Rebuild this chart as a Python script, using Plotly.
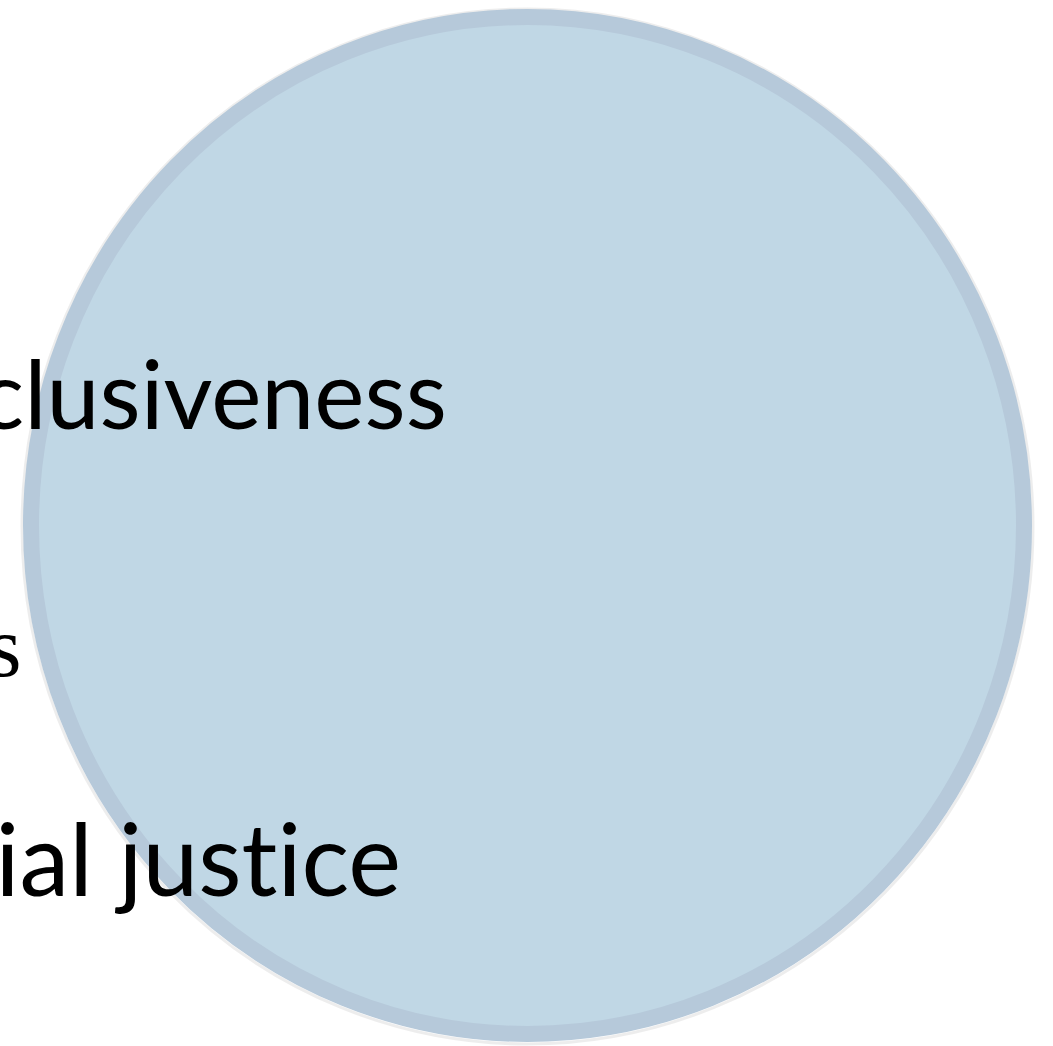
import plotly.graph_objects as go

W, H = 1053, 1046

# Labels (partly hidden off the left edge in the reference)
labels = ["inclusiveness", "s", "social justice"]
label_right_px = [448, 22, 403]
label_baseline_px = [428, 676, 895]
label_fonts = ["Lato", "Liberation Serif", "Lato"]
label_sizes = [95, 86, 100]

# Circle geometry (outer edge in px)
circle_left, circle_right = 23, 1032
circle_top, circle_bottom = 9, 1042
border_w = 16
fill_color = "#c0d7e5"
border_color = "#b6c9da"

fig = go.Figure()

# faint shadow
fig.add_shape(type="circle", xref="x", yref="y",
              x0=circle_left - 1, x1=circle_right + 1,
              y0=circle_top, y1=circle_bottom + 2,
              line=dict(color="rgba(0,0,0,0.07)", width=3),
              fillcolor="rgba(0,0,0,0)", layer="below")
fig.add_shape(type="circle", xref="x", yref="y",
              x0=circle_left + border_w / 2, x1=circle_right - border_w / 2,
              y0=circle_top + border_w / 2, y1=circle_bottom - border_w / 2,
              line=dict(color=border_color, width=border_w),
              fillcolor=fill_color, layer="below")

for t, xr, yb, f, s in zip(labels, label_right_px, label_baseline_px, label_fonts, label_sizes):
    fig.add_annotation(x=xr, y=yb, xref="x", yref="y", text=t, showarrow=False,
                       xanchor="right", yanchor="bottom", borderpad=0,
                       yshift=-0.23 * s,
                       font=dict(family=f, size=s, color="#000000"))

fig.update_xaxes(range=[0, W], visible=False, fixedrange=True)
fig.update_yaxes(range=[H, 0], visible=False, fixedrange=True)
fig.update_layout(width=W, height=H, margin=dict(l=0, r=0, t=0, b=0),
                  paper_bgcolor="white", plot_bgcolor="white", showlegend=False)

post = ("document.body.style.margin='0';"
        "var st=document.createElement('style');"
        "st.textContent='text{font-variant-ligatures:none !important;font-feature-settings:\"liga\" 0,\"clig\" 0 !important;}';"
        "document.head.appendChild(st);")
fig.write_html("out.html", post_script=post, config={"displayModeBar": False})
